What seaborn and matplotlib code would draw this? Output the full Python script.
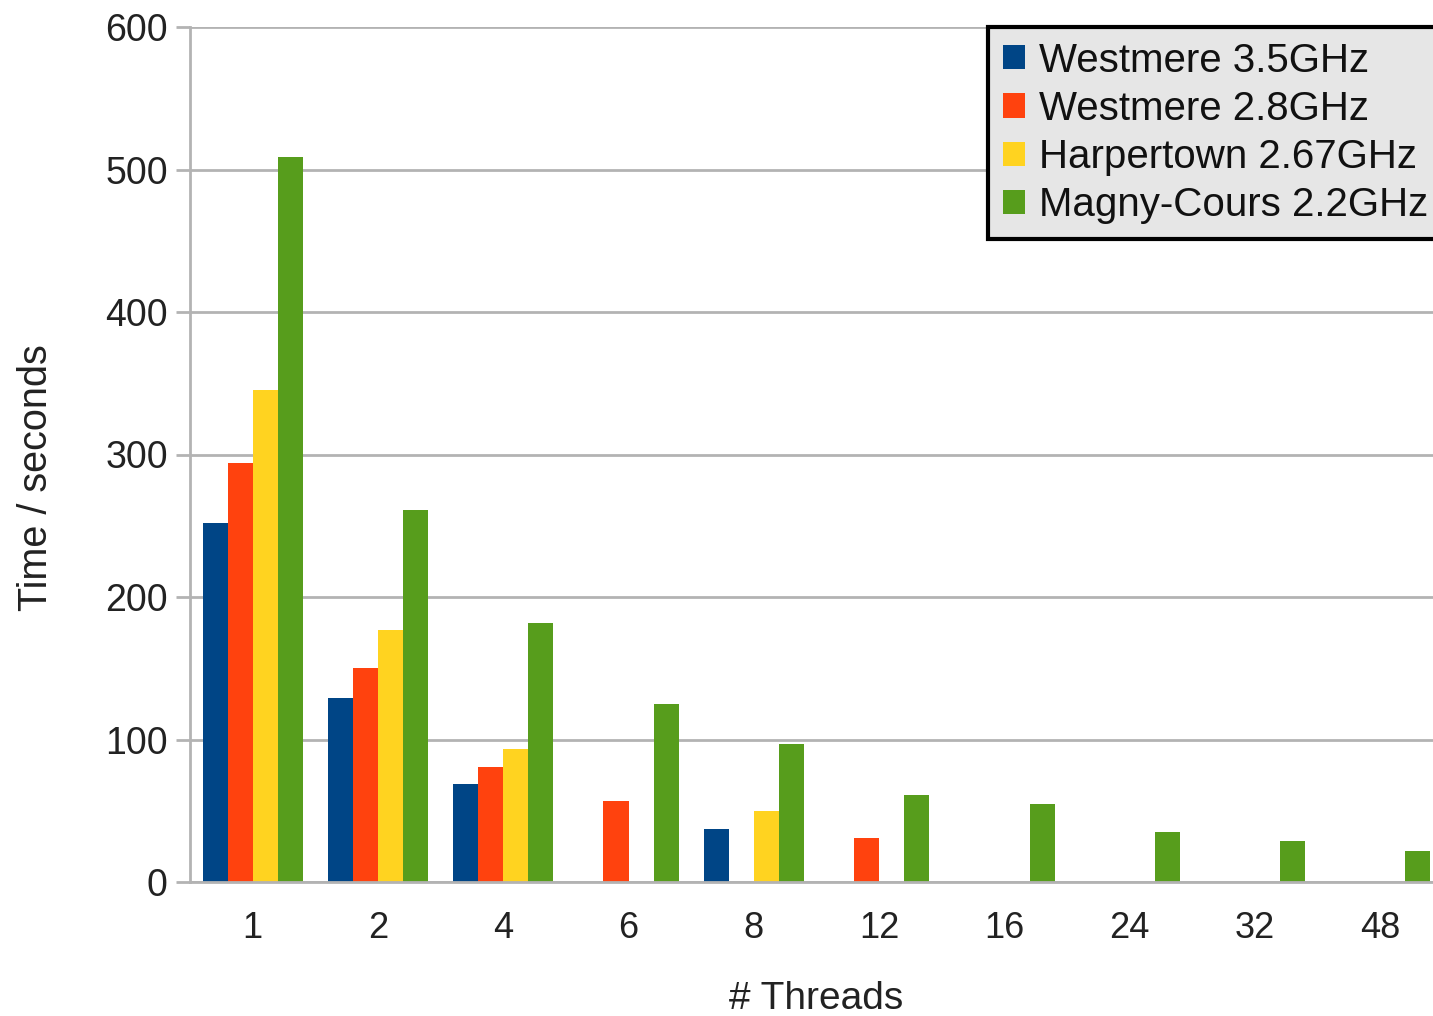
import numpy as np
import pandas as pd
import matplotlib
matplotlib.use("Agg")
import matplotlib.pyplot as plt
import seaborn as sns
from matplotlib.ticker import FixedLocator

# ==========================================
# DATA
# ==========================================
THREADS = ["1", "2", "4", "6", "8", "12", "16", "24", "32", "48"]
CPU_NAMES = ["Westmere 3.5GHz", "Westmere 2.8GHz", "Harpertown 2.67GHz", "Magny-Cours 2.2GHz"]
CPU_COLORS = ["#004586", "#ff420e", "#ffd320", "#579d1c"]

westmere_35 = [252, 129, 69, np.nan, 37, np.nan, np.nan, np.nan, np.nan, np.nan]
westmere_28 = [294, 150, 81, 57, np.nan, 31, np.nan, np.nan, np.nan, np.nan]
harpertown = [345, 177, 93, np.nan, 50, np.nan, np.nan, np.nan, np.nan, np.nan]
magny_cours = [509, 261, 182, 125, 97, 61, 55, 35, 29, 22]

Y_TICKS = [0, 100, 200, 300, 400, 500, 600]

GRID_COLOR = "#b3b3b3"
TEXT_COLOR = "#222222"
FONT = ["Liberation Sans", "DejaVu Sans"]


def build_frame():
    rows = []
    for name, vals in zip(CPU_NAMES, [westmere_35, westmere_28, harpertown, magny_cours]):
        for t, v in zip(THREADS, vals):
            rows.append({"threads": t, "time": v, "cpu": name})
    df = pd.DataFrame(rows)
    return df.dropna()


def main():
    sns.set_style("white")
    plt.rcParams["font.family"] = FONT

    fig = plt.figure(figsize=(14.33, 10.16), dpi=100)
    ax = fig.add_axes([190 / 1433, 1 - 882 / 1016, 1253 / 1433, 855 / 1016])

    df = build_frame()
    sns.barplot(data=df, x="threads", y="time", hue="cpu",
                order=THREADS, hue_order=CPU_NAMES, palette=CPU_COLORS,
                width=0.8, saturation=1, errorbar=None, linewidth=0, ax=ax)

    ax.set_xlim(-0.5, len(THREADS) - 0.5)
    ax.set_ylim(0, 600)
    ax.set_yticks(Y_TICKS)
    ax.yaxis.grid(True, color=GRID_COLOR, linewidth=2)
    ax.set_axisbelow(True)

    # tick marks at group boundaries, labels at centres
    ax.xaxis.set_minor_locator(FixedLocator(np.arange(-0.5, len(THREADS), 1.0)))
    ax.tick_params(axis="x", which="major", length=0, labelsize=26, pad=21, colors=TEXT_COLOR)
    ax.tick_params(axis="x", which="minor", length=10, width=2, color=GRID_COLOR, direction="out")
    ax.tick_params(axis="y", which="major", length=10, width=2, color=GRID_COLOR,
                   labelsize=27, pad=6, labelcolor=TEXT_COLOR, direction="out", left=True)

    for side in ["top", "right"]:
        ax.spines[side].set_visible(False)
    for side in ["left", "bottom"]:
        ax.spines[side].set_color(GRID_COLOR)
        ax.spines[side].set_linewidth(2)

    ax.set_xlabel("# Threads", fontsize=28, labelpad=25, color=TEXT_COLOR)
    ax.set_ylabel("Time / seconds", fontsize=28.5, color=TEXT_COLOR)
    ax.yaxis.set_label_coords(-0.108, 0.4725)

    handles, labels = ax.get_legend_handles_labels()
    if ax.legend_:
        ax.legend_.remove()
    leg = fig.legend(handles, labels, loc="upper left",
                     bbox_to_anchor=(988 / 1433, 1 - 27 / 1016),
                     bbox_transform=fig.transFigure,
                     fontsize=29, frameon=True, fancybox=False,
                     handlelength=0.55, handleheight=0.55, handletextpad=0.35,
                     labelspacing=0.255, borderpad=0.36, borderaxespad=0)
    frame = leg.get_frame()
    frame.set_facecolor("#e6e6e6")
    frame.set_edgecolor("black")
    frame.set_linewidth(3)
    frame.set_alpha(1)
    for txt in leg.get_texts():
        txt.set_color("#111111")

    fig.savefig("out.png", dpi=100)
    plt.close(fig)


if __name__ == "__main__":
    main()
